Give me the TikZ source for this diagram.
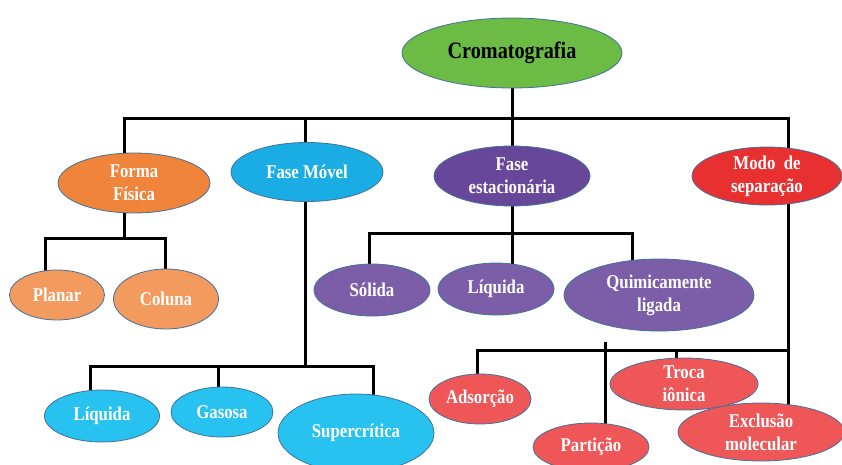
\documentclass[tikz,border=0pt]{standalone}
\usepackage{fontspec}
\setmainfont{Liberation Serif}[FakeStretch=0.86]
\usetikzlibrary{shapes.geometric,backgrounds}
\definecolor{edgeblue}{HTML}{41719C}
\definecolor{cgreen}{HTML}{6CBB45}
\definecolor{corange}{HTML}{F0843A}
\definecolor{corangel}{HTML}{F39A5E}
\definecolor{cblue}{HTML}{1AADE3}
\definecolor{cbluel}{HTML}{27C2F0}
\definecolor{cpurple}{HTML}{68479A}
\definecolor{cpurplel}{HTML}{7B5EA7}
\definecolor{cred}{HTML}{E7302F}
\definecolor{credl}{HTML}{EE5657}
\begin{document}
\begin{tikzpicture}[x=1pt,y=-1pt,
  el/.style={ellipse, draw=edgeblue, line width=0.8pt, inner sep=0pt, text=white,
    font=\fontsize{19.5}{23}\selectfont\bfseries, align=center},
  conn/.style={line width=3pt, black, line cap=rect}]
\useasboundingbox (0,0) rectangle (842,464);

% level 0
\node[el, fill=cgreen, text=black, minimum width=220pt, minimum height=70pt,
  font=\fontsize{23.5}{27}\selectfont\bfseries] (crom) at (512,53) {Cromatografia};
% level 1
\node[el, fill=corange, minimum width=152pt, minimum height=60pt] (forma) at (134,183) {Forma\\Física};
\node[el, fill=cblue, minimum width=152pt, minimum height=59pt] (movel) at (307,172) {Fase Móvel};
\node[el, fill=cpurple, minimum width=156pt, minimum height=60pt] (est) at (512,176) {Fase\\estacionária};
\node[el, fill=cred, minimum width=150pt, minimum height=58pt] (modo) at (767,176) {Modo~~de\\separação};
% forma children
\node[el, fill=corangel, minimum width=95pt, minimum height=50pt] (planar) at (57,295) {Planar};
\node[el, fill=corangel, minimum width=105pt, minimum height=60pt] (coluna) at (166,299) {Coluna};
% movel children
\node[el, fill=cbluel, minimum width=115pt, minimum height=52pt] (liqm) at (102,416) {Líquida};
\node[el, fill=cbluel, minimum width=102pt, minimum height=50pt] (gas) at (222,412) {Gasosa};
\node[el, fill=cbluel, minimum width=156pt, minimum height=78pt] (super) at (356,433) {Supercrítica};
% est children
\node[el, fill=cpurplel, minimum width=116pt, minimum height=52pt] (solida) at (372,290) {Sólida};
\node[el, fill=cpurplel, minimum width=116pt, minimum height=52pt] (liqe) at (496,289) {Líquida};
\node[el, fill=cpurplel, minimum width=190pt, minimum height=72pt] (quim) at (659,295) {Quimicamente\\ligada};
% modo children
\node[el, fill=credl, minimum width=102pt, minimum height=50pt] (ads) at (480,399) {Adsorção};
\node[el, fill=credl, minimum width=116pt, minimum height=48pt] (part) at (591,447) {Partição};
\node[el, fill=credl, minimum width=148pt, minimum height=52pt] (troca) at (684,384) {Troca\\iônica};
\node[el, fill=credl, minimum width=166pt, minimum height=58pt] (excl) at (761,432) {Exclusão\\molecular};

% bus coordinates
\coordinate (b0) at (512,118);
\coordinate (b0l) at (124,118);
\coordinate (b0r) at (788,118);
\coordinate (bf) at (124,238);
\coordinate (bfl) at (45,238);
\coordinate (bfr) at (165,238);
\coordinate (bm) at (305,366);
\coordinate (bml) at (90,366);
\coordinate (bmr) at (373,366);
\coordinate (be) at (512,233);
\coordinate (bel) at (369,233);
\coordinate (ber) at (632,233);
\coordinate (bs) at (788,350);
\coordinate (bsl) at (477,350);
\coordinate (bpt) at (605,343);
\coordinate (btr) at (676,350);

\begin{scope}[on background layer]
  % root
  \draw[conn] (crom.center |- crom.south) -- (b0);
  \draw[conn] (b0l) -- (b0r);
  \draw[conn] (b0l) -- (b0l |- forma.center);
  \draw[conn] (305,118) -- (305,118 |- movel.center);
  \draw[conn] (b0) -- (b0 |- est.center);
  \draw[conn] (b0r) -- (b0r |- modo.center);
  % forma
  \draw[conn] (bf |- forma.center) -- (bf);
  \draw[conn] (bfl) -- (bfr);
  \draw[conn] (bfl) -- (bfl |- planar.center);
  \draw[conn] (bfr) -- (bfr |- coluna.center);
  % movel
  \draw[conn] (bm |- movel.center) -- (bm);
  \draw[conn] (bml) -- (bmr);
  \draw[conn] (bml) -- (bml |- liqm.center);
  \draw[conn] (218,366) -- (218,366 |- gas.center);
  \draw[conn] (bmr) -- (bmr |- super.center);
  % est
  \draw[conn] (be |- est.center) -- (be);
  \draw[conn] (bel) -- (ber);
  \draw[conn] (bel) -- (bel |- solida.center);
  \draw[conn] (be) -- (be |- liqe.center);
  \draw[conn] (ber) -- (ber |- quim.center);
  % modo
  \draw[conn] (bs |- modo.center) -- (bs |- excl.center);
  \draw[conn] (bsl) -- (bs);
  \draw[conn] (bsl) -- (bsl |- ads.center);
  \draw[conn] (bpt) -- (bpt |- part.center);
  \draw[conn] (btr) -- (btr |- troca.center);
\end{scope}
\end{tikzpicture}
\end{document}
